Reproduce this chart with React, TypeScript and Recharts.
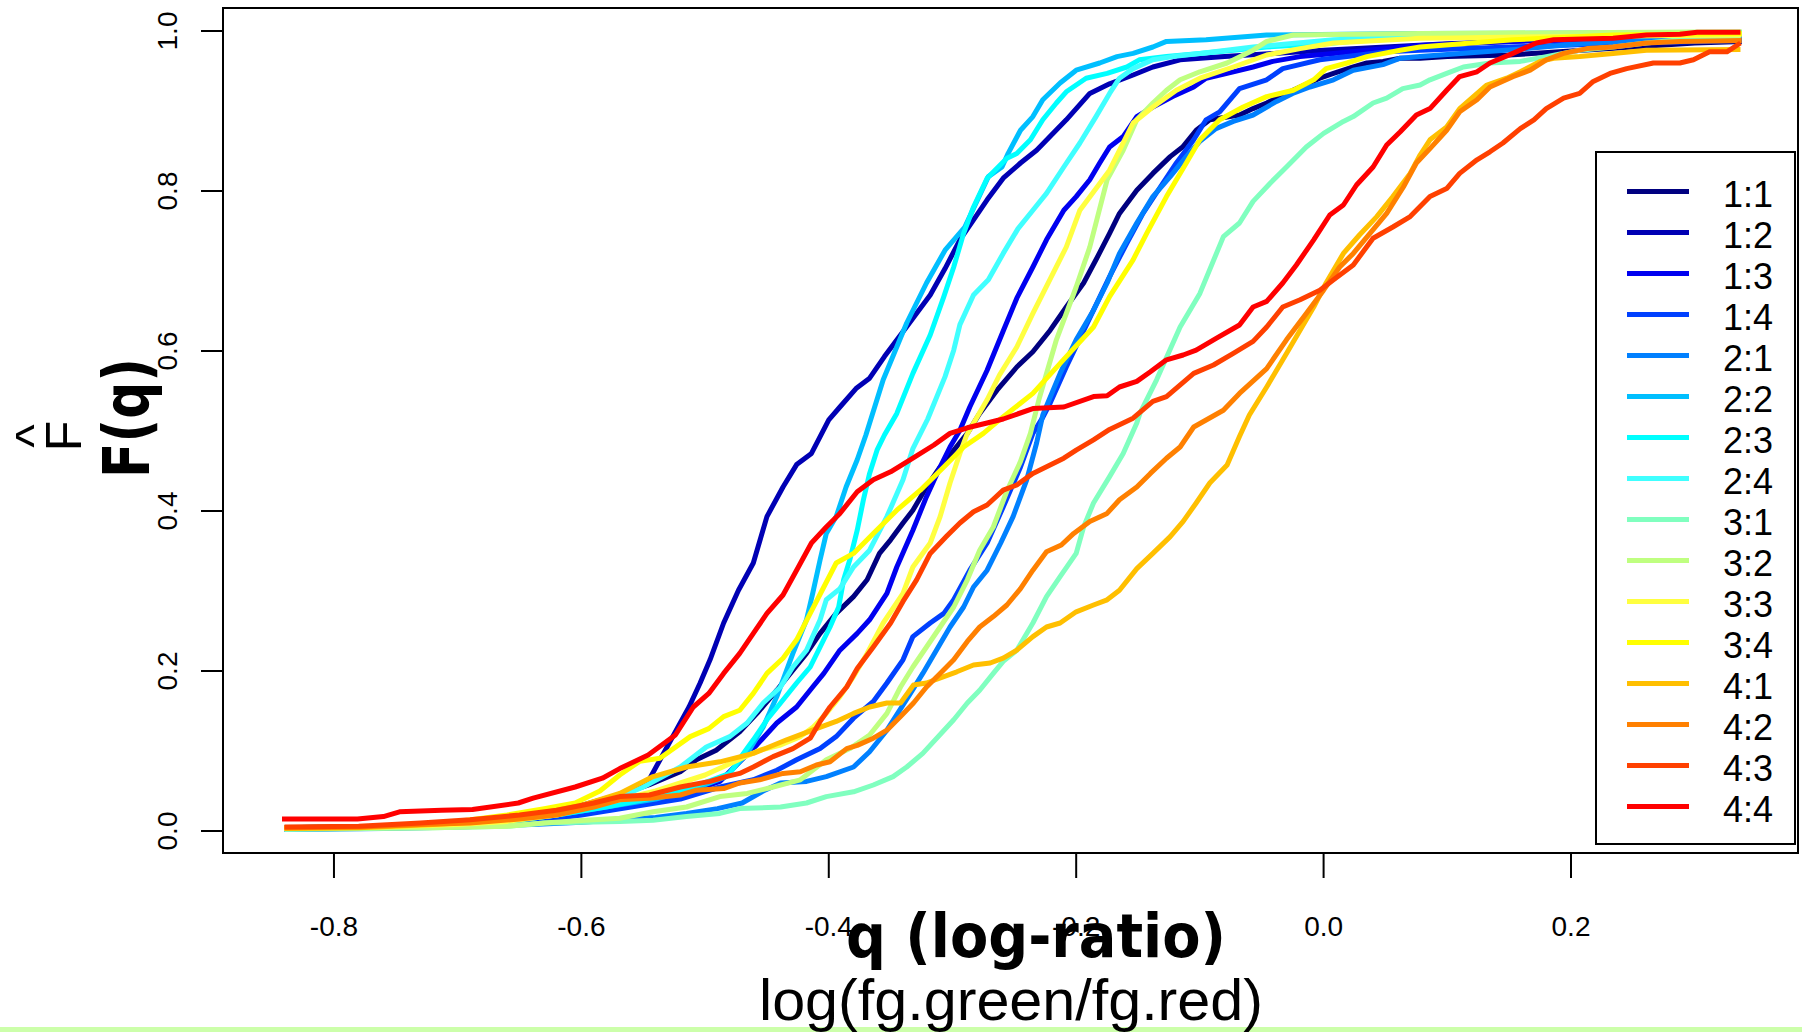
import React from 'react';
import { LineChart, Line, XAxis, YAxis, Legend, ReferenceArea } from 'recharts';

type Pt = [number, number];

const s11: Pt[] = [[-0.84,0.003],[-0.78,0.005],[-0.72,0.008],[-0.68,0.012],[-0.64,0.02],[-0.60,0.032],[-0.57,0.045],[-0.545,0.058],[-0.520,0.074],[-0.507,0.089],[-0.491,0.101],[-0.472,0.124],[-0.458,0.147],[-0.442,0.176],[-0.429,0.201],[-0.418,0.222],[-0.407,0.247],[-0.394,0.272],[-0.380,0.293],[-0.369,0.314],[-0.359,0.347],[-0.350,0.364],[-0.340,0.385],[-0.332,0.401],[-0.321,0.430],[-0.310,0.455],[-0.299,0.476],[-0.288,0.497],[-0.278,0.522],[-0.264,0.551],[-0.248,0.580],[-0.235,0.599],[-0.221,0.626],[-0.208,0.655],[-0.194,0.685],[-0.184,0.714],[-0.173,0.747],[-0.165,0.772],[-0.151,0.801],[-0.138,0.822],[-0.124,0.843],[-0.114,0.855],[-0.103,0.876],[-0.092,0.889],[-0.068,0.895],[-0.057,0.903],[-0.046,0.910],[-0.033,0.920],[-0.019,0.930],[-0.003,0.941],[0.008,0.947],[0.024,0.955],[0.035,0.960],[0.048,0.962],[0.062,0.966],[0.078,0.966],[0.10,0.968],[0.15,0.970],[0.20,0.975],[0.25,0.980],[0.30,0.985],[0.338,0.987]];
const s12: Pt[] = [[-0.84,0.004],[-0.76,0.006],[-0.70,0.010],[-0.66,0.015],[-0.62,0.025],[-0.59,0.035],[-0.565,0.045],[-0.546,0.062],[-0.513,0.155],[-0.504,0.185],[-0.496,0.214],[-0.485,0.260],[-0.473,0.301],[-0.461,0.335],[-0.450,0.393],[-0.437,0.430],[-0.426,0.458],[-0.414,0.472],[-0.400,0.514],[-0.391,0.530],[-0.378,0.553],[-0.367,0.566],[-0.355,0.593],[-0.342,0.620],[-0.318,0.670],[-0.306,0.703],[-0.294,0.739],[-0.272,0.789],[-0.259,0.816],[-0.245,0.835],[-0.232,0.851],[-0.208,0.889],[-0.189,0.922],[-0.173,0.934],[-0.154,0.945],[-0.138,0.955],[-0.116,0.964],[-0.08,0.968],[-0.04,0.972],[0.0,0.976],[0.05,0.980],[0.10,0.984],[0.15,0.987],[0.20,0.990],[0.25,0.992],[0.30,0.994],[0.338,0.995]];
const s13: Pt[] = [[-0.84,0.003],[-0.76,0.005],[-0.70,0.008],[-0.64,0.015],[-0.60,0.022],[-0.56,0.032],[-0.52,0.045],[-0.488,0.062],[-0.458,0.108],[-0.442,0.135],[-0.426,0.155],[-0.413,0.180],[-0.404,0.197],[-0.391,0.226],[-0.377,0.247],[-0.367,0.264],[-0.353,0.297],[-0.345,0.330],[-0.332,0.376],[-0.321,0.418],[-0.310,0.455],[-0.302,0.480],[-0.294,0.501],[-0.286,0.530],[-0.272,0.576],[-0.259,0.625],[-0.248,0.666],[-0.235,0.705],[-0.224,0.739],[-0.210,0.776],[-0.200,0.793],[-0.189,0.814],[-0.181,0.835],[-0.173,0.855],[-0.162,0.868],[-0.151,0.893],[-0.138,0.905],[-0.122,0.918],[-0.105,0.930],[-0.095,0.941],[-0.078,0.947],[-0.057,0.955],[-0.041,0.962],[-0.019,0.968],[0.008,0.972],[0.035,0.976],[0.078,0.982],[0.15,0.987],[0.25,0.990],[0.338,0.992]];
const s14: Pt[] = [[-0.84,0.002],[-0.76,0.004],[-0.70,0.006],[-0.64,0.012],[-0.60,0.020],[-0.56,0.030],[-0.52,0.040],[-0.488,0.055],[-0.461,0.064],[-0.442,0.076],[-0.426,0.089],[-0.407,0.103],[-0.394,0.118],[-0.380,0.141],[-0.364,0.162],[-0.353,0.185],[-0.340,0.214],[-0.332,0.243],[-0.318,0.260],[-0.307,0.272],[-0.299,0.289],[-0.286,0.326],[-0.272,0.360],[-0.259,0.405],[-0.245,0.455],[-0.235,0.497],[-0.227,0.517],[-0.221,0.535],[-0.208,0.580],[-0.186,0.651],[-0.173,0.693],[-0.159,0.735],[-0.146,0.772],[-0.132,0.805],[-0.119,0.835],[-0.105,0.864],[-0.095,0.889],[-0.084,0.899],[-0.068,0.928],[-0.046,0.939],[-0.033,0.953],[-0.003,0.964],[0.051,0.974],[0.078,0.976],[0.15,0.980],[0.25,0.985],[0.338,0.988]];
const s21: Pt[] = [[-0.84,0.002],[-0.76,0.003],[-0.70,0.005],[-0.64,0.008],[-0.60,0.011],[-0.569,0.014],[-0.54,0.017],[-0.515,0.022],[-0.49,0.028],[-0.47,0.035],[-0.453,0.050],[-0.439,0.060],[-0.418,0.062],[-0.402,0.068],[-0.380,0.080],[-0.367,0.099],[-0.353,0.126],[-0.334,0.172],[-0.324,0.197],[-0.313,0.226],[-0.302,0.255],[-0.291,0.280],[-0.283,0.305],[-0.272,0.326],[-0.261,0.360],[-0.251,0.393],[-0.240,0.439],[-0.232,0.485],[-0.227,0.520],[-0.213,0.572],[-0.200,0.614],[-0.186,0.651],[-0.175,0.685],[-0.165,0.722],[-0.151,0.760],[-0.138,0.793],[-0.124,0.818],[-0.111,0.843],[-0.100,0.862],[-0.087,0.878],[-0.073,0.887],[-0.057,0.895],[-0.038,0.912],[-0.025,0.922],[-0.011,0.930],[0.008,0.939],[0.024,0.951],[0.048,0.958],[0.062,0.966],[0.078,0.968],[0.13,0.974],[0.164,0.978],[0.207,0.984],[0.261,0.989],[0.338,0.991]];
const s22: Pt[] = [[-0.84,0.004],[-0.76,0.006],[-0.70,0.008],[-0.66,0.012],[-0.62,0.020],[-0.58,0.030],[-0.54,0.040],[-0.51,0.052],[-0.483,0.068],[-0.466,0.097],[-0.453,0.130],[-0.442,0.168],[-0.429,0.222],[-0.418,0.264],[-0.413,0.297],[-0.407,0.339],[-0.402,0.372],[-0.394,0.393],[-0.386,0.430],[-0.377,0.464],[-0.370,0.495],[-0.356,0.564],[-0.337,0.635],[-0.321,0.685],[-0.306,0.726],[-0.290,0.755],[-0.271,0.818],[-0.260,0.830],[-0.255,0.847],[-0.245,0.876],[-0.235,0.893],[-0.227,0.914],[-0.213,0.935],[-0.200,0.951],[-0.181,0.960],[-0.167,0.968],[-0.154,0.972],[-0.138,0.980],[-0.127,0.987],[-0.095,0.989],[-0.046,0.995],[0.078,0.997],[0.338,0.998]];
const s23: Pt[] = [[-0.84,0.003],[-0.76,0.005],[-0.70,0.008],[-0.66,0.012],[-0.62,0.020],[-0.58,0.030],[-0.54,0.042],[-0.51,0.055],[-0.480,0.072],[-0.469,0.097],[-0.461,0.114],[-0.450,0.139],[-0.439,0.160],[-0.426,0.185],[-0.415,0.205],[-0.407,0.230],[-0.399,0.255],[-0.392,0.280],[-0.388,0.314],[-0.383,0.339],[-0.377,0.376],[-0.372,0.414],[-0.367,0.447],[-0.361,0.476],[-0.355,0.495],[-0.345,0.522],[-0.332,0.572],[-0.318,0.620],[-0.307,0.668],[-0.299,0.705],[-0.291,0.747],[-0.283,0.780],[-0.272,0.816],[-0.256,0.841],[-0.248,0.847],[-0.237,0.864],[-0.227,0.889],[-0.216,0.910],[-0.208,0.924],[-0.192,0.941],[-0.175,0.947],[-0.159,0.955],[-0.149,0.964],[-0.127,0.968],[-0.100,0.972],[-0.046,0.980],[0.008,0.985],[0.078,0.995],[0.338,0.998]];
const s24: Pt[] = [[-0.84,0.004],[-0.76,0.006],[-0.70,0.010],[-0.66,0.015],[-0.62,0.022],[-0.58,0.035],[-0.55,0.055],[-0.520,0.080],[-0.499,0.105],[-0.480,0.118],[-0.466,0.135],[-0.453,0.160],[-0.439,0.180],[-0.429,0.205],[-0.418,0.226],[-0.407,0.264],[-0.402,0.289],[-0.391,0.303],[-0.380,0.330],[-0.367,0.351],[-0.353,0.393],[-0.340,0.439],[-0.332,0.478],[-0.320,0.515],[-0.306,0.568],[-0.299,0.601],[-0.294,0.633],[-0.283,0.670],[-0.271,0.689],[-0.259,0.722],[-0.247,0.753],[-0.235,0.776],[-0.224,0.797],[-0.210,0.830],[-0.197,0.860],[-0.184,0.893],[-0.173,0.922],[-0.165,0.941],[-0.154,0.953],[-0.138,0.964],[-0.122,0.968],[-0.100,0.972],[-0.057,0.980],[0.008,0.989],[0.078,0.993],[0.338,0.997]];
const s31: Pt[] = [[-0.84,0.002],[-0.72,0.004],[-0.66,0.006],[-0.63,0.010],[-0.569,0.012],[-0.542,0.0135],[-0.515,0.018],[-0.488,0.022],[-0.472,0.028],[-0.439,0.030],[-0.418,0.035],[-0.402,0.043],[-0.380,0.049],[-0.364,0.0575],[-0.348,0.068],[-0.337,0.080],[-0.324,0.097],[-0.299,0.139],[-0.288,0.160],[-0.278,0.176],[-0.267,0.197],[-0.259,0.212],[-0.248,0.226],[-0.235,0.260],[-0.224,0.293],[-0.213,0.318],[-0.200,0.347],[-0.194,0.380],[-0.186,0.410],[-0.173,0.443],[-0.162,0.472],[-0.151,0.510],[-0.1485,0.522],[-0.135,0.564],[-0.116,0.630],[-0.100,0.672],[-0.081,0.743],[-0.068,0.760],[-0.057,0.787],[-0.043,0.810],[-0.030,0.830],[-0.014,0.855],[0.000,0.872],[0.016,0.887],[0.024,0.893],[0.040,0.910],[0.051,0.916],[0.064,0.928],[0.078,0.9325],[0.086,0.939],[0.0995,0.947],[0.113,0.955],[0.1345,0.960],[0.159,0.962],[0.180,0.968],[0.207,0.976],[0.234,0.980],[0.261,0.985],[0.288,0.989],[0.337,0.993]];
const s32: Pt[] = [[-0.84,0.003],[-0.72,0.004],[-0.66,0.006],[-0.63,0.010],[-0.60,0.013],[-0.569,0.016],[-0.542,0.024],[-0.515,0.030],[-0.488,0.043],[-0.466,0.047],[-0.445,0.055],[-0.423,0.064],[-0.402,0.089],[-0.383,0.103],[-0.367,0.120],[-0.353,0.147],[-0.342,0.180],[-0.332,0.205],[-0.321,0.230],[-0.310,0.255],[-0.299,0.280],[-0.288,0.314],[-0.278,0.351],[-0.267,0.380],[-0.256,0.425],[-0.245,0.462],[-0.237,0.497],[-0.230,0.540],[-0.216,0.614],[-0.200,0.680],[-0.189,0.730],[-0.175,0.814],[-0.162,0.851],[-0.151,0.889],[-0.138,0.910],[-0.127,0.926],[-0.116,0.939],[-0.100,0.949],[-0.078,0.960],[-0.057,0.976],[-0.046,0.987],[-0.0245,0.995],[0.078,0.997],[0.338,0.999]];
const s33: Pt[] = [[-0.84,0.003],[-0.76,0.005],[-0.70,0.008],[-0.66,0.012],[-0.62,0.020],[-0.58,0.035],[-0.54,0.050],[-0.50,0.070],[-0.456,0.101],[-0.439,0.1075],[-0.423,0.118],[-0.4125,0.130],[-0.402,0.147],[-0.391,0.168],[-0.380,0.193],[-0.369,0.222],[-0.356,0.260],[-0.340,0.297],[-0.332,0.330],[-0.318,0.360],[-0.310,0.393],[-0.302,0.435],[-0.294,0.472],[-0.2885,0.495],[-0.272,0.539],[-0.262,0.570],[-0.248,0.605],[-0.235,0.647],[-0.208,0.730],[-0.197,0.776],[-0.173,0.826],[-0.154,0.885],[-0.138,0.905],[-0.119,0.926],[-0.100,0.941],[-0.073,0.955],[-0.046,0.970],[-0.019,0.978],[0.008,0.985],[0.078,0.991],[0.20,0.993],[0.338,0.995]];
const s34: Pt[] = [[-0.84,0.004],[-0.76,0.006],[-0.70,0.012],[-0.66,0.020],[-0.63,0.028],[-0.605,0.035],[-0.585,0.050],[-0.569,0.070],[-0.553,0.087],[-0.5365,0.091],[-0.512,0.118],[-0.497,0.128],[-0.485,0.143],[-0.472,0.151],[-0.461,0.172],[-0.450,0.197],[-0.437,0.216],[-0.426,0.239],[-0.415,0.272],[-0.404,0.305],[-0.394,0.335],[-0.380,0.347],[-0.364,0.372],[-0.345,0.401],[-0.326,0.426],[-0.307,0.455],[-0.291,0.480],[-0.275,0.497],[-0.262,0.514],[-0.235,0.547],[-0.208,0.593],[-0.186,0.630],[-0.173,0.668],[-0.154,0.714],[-0.143,0.747],[-0.127,0.793],[-0.111,0.835],[-0.100,0.864],[-0.084,0.889],[-0.065,0.905],[-0.046,0.918],[-0.0245,0.926],[-0.008,0.939],[0.002,0.953],[0.019,0.960],[0.035,0.968],[0.062,0.976],[0.078,0.980],[0.153,0.989],[0.234,0.995],[0.338,0.997]];
const s41: Pt[] = [[-0.84,0.003],[-0.78,0.004],[-0.72,0.008],[-0.68,0.012],[-0.64,0.020],[-0.60,0.032],[-0.569,0.047],[-0.542,0.068],[-0.515,0.080],[-0.488,0.0865],[-0.461,0.097],[-0.434,0.114],[-0.410,0.128],[-0.394,0.137],[-0.380,0.147],[-0.367,0.155],[-0.353,0.160],[-0.342,0.160],[-0.3315,0.1825],[-0.321,0.185],[-0.307,0.193],[-0.2965,0.199],[-0.283,0.2075],[-0.2695,0.210],[-0.259,0.216],[-0.248,0.226],[-0.235,0.243],[-0.224,0.255],[-0.213,0.260],[-0.200,0.274],[-0.186,0.2825],[-0.175,0.289],[-0.165,0.301],[-0.151,0.328],[-0.138,0.347],[-0.124,0.368],[-0.1135,0.387],[-0.103,0.410],[-0.092,0.435],[-0.078,0.4575],[-0.068,0.493],[-0.060,0.520],[-0.046,0.555],[-0.030,0.597],[-0.019,0.626],[-0.008,0.655],[0.002,0.685],[0.016,0.722],[0.029,0.745],[0.043,0.768],[0.056,0.793],[0.070,0.822],[0.078,0.845],[0.086,0.864],[0.0995,0.880],[0.110,0.903],[0.132,0.9325],[0.148,0.941],[0.159,0.949],[0.175,0.962],[0.186,0.966],[0.207,0.968],[0.234,0.972],[0.261,0.976],[0.337,0.977]];
const s42: Pt[] = [[-0.84,0.004],[-0.78,0.005],[-0.73,0.008],[-0.69,0.010],[-0.65,0.015],[-0.62,0.020],[-0.59,0.030],[-0.569,0.039],[-0.545,0.041],[-0.520,0.045],[-0.507,0.051],[-0.485,0.053],[-0.472,0.060],[-0.456,0.064],[-0.437,0.072],[-0.423,0.074],[-0.410,0.0825],[-0.399,0.0865],[-0.3855,0.103],[-0.377,0.107],[-0.364,0.116],[-0.353,0.126],[-0.342,0.143],[-0.3315,0.160],[-0.321,0.180],[-0.310,0.197],[-0.299,0.214],[-0.288,0.237],[-0.278,0.255],[-0.267,0.268],[-0.256,0.2825],[-0.245,0.303],[-0.235,0.326],[-0.224,0.349],[-0.212,0.3575],[-0.202,0.372],[-0.189,0.387],[-0.175,0.397],[-0.165,0.414],[-0.151,0.430],[-0.140,0.447],[-0.127,0.466],[-0.116,0.480],[-0.105,0.505],[-0.081,0.526],[-0.068,0.547],[-0.046,0.578],[-0.030,0.614],[-0.014,0.647],[0.000,0.676],[0.013,0.705],[0.024,0.722],[0.0375,0.747],[0.051,0.772],[0.0645,0.805],[0.075,0.835],[0.086,0.853],[0.0995,0.876],[0.110,0.899],[0.124,0.914],[0.1345,0.930],[0.153,0.943],[0.167,0.951],[0.180,0.964],[0.194,0.972],[0.213,0.978],[0.234,0.980],[0.261,0.985],[0.288,0.987],[0.338,0.988]];
const s43: Pt[] = [[-0.84,0.005],[-0.78,0.006],[-0.73,0.010],[-0.69,0.014],[-0.65,0.020],[-0.62,0.026],[-0.59,0.035],[-0.569,0.043],[-0.545,0.045],[-0.520,0.055],[-0.496,0.062],[-0.483,0.068],[-0.472,0.072],[-0.461,0.080],[-0.445,0.093],[-0.429,0.103],[-0.415,0.116],[-0.407,0.137],[-0.399,0.155],[-0.3855,0.180],[-0.377,0.203],[-0.364,0.230],[-0.350,0.260],[-0.340,0.287],[-0.329,0.314],[-0.318,0.347],[-0.305,0.368],[-0.294,0.385],[-0.283,0.399],[-0.272,0.4075],[-0.259,0.426],[-0.248,0.4325],[-0.235,0.447],[-0.210,0.466],[-0.200,0.476],[-0.186,0.489],[-0.173,0.502],[-0.154,0.516],[-0.138,0.537],[-0.127,0.543],[-0.105,0.572],[-0.089,0.5825],[-0.073,0.597],[-0.057,0.612],[-0.046,0.630],[-0.033,0.655],[-0.019,0.664],[-0.003,0.676],[0.008,0.689],[0.024,0.7075],[0.040,0.741],[0.056,0.755],[0.070,0.768],[0.086,0.793],[0.0995,0.803],[0.110,0.822],[0.124,0.839],[0.1345,0.849],[0.145,0.860],[0.159,0.878],[0.170,0.889],[0.180,0.903],[0.194,0.916],[0.207,0.922],[0.218,0.937],[0.2315,0.947],[0.245,0.953],[0.2666,0.960],[0.288,0.960],[0.299,0.964],[0.312,0.974],[0.326,0.974],[0.337,0.985]];
const s44: Pt[] = [[-0.842,0.015],[-0.781,0.015],[-0.760,0.018],[-0.747,0.024],[-0.713,0.026],[-0.688,0.027],[-0.651,0.035],[-0.639,0.041],[-0.605,0.055],[-0.583,0.066],[-0.569,0.078],[-0.546,0.095],[-0.524,0.120],[-0.5095,0.155],[-0.497,0.172],[-0.485,0.197],[-0.472,0.222],[-0.461,0.247],[-0.450,0.272],[-0.437,0.295],[-0.426,0.326],[-0.414,0.360],[-0.402,0.380],[-0.391,0.397],[-0.377,0.424],[-0.364,0.439],[-0.350,0.449],[-0.332,0.466],[-0.315,0.4825],[-0.302,0.497],[-0.288,0.504],[-0.272,0.510],[-0.259,0.515],[-0.235,0.528],[-0.210,0.530],[-0.186,0.543],[-0.175,0.544],[-0.165,0.555],[-0.151,0.562],[-0.140,0.574],[-0.127,0.589],[-0.1135,0.595],[-0.103,0.601],[-0.0865,0.616],[-0.068,0.6325],[-0.057,0.655],[-0.046,0.662],[-0.033,0.685],[-0.022,0.7075],[-0.008,0.739],[0.005,0.770],[0.016,0.7825],[0.0266,0.8075],[0.040,0.830],[0.051,0.8575],[0.062,0.874],[0.075,0.895],[0.086,0.903],[0.0995,0.926],[0.110,0.943],[0.124,0.949],[0.1345,0.960],[0.153,0.972],[0.172,0.985],[0.186,0.989],[0.234,0.991],[0.261,0.995],[0.288,0.996],[0.302,0.9985],[0.337,0.9985]];

const seriesNames = ['1:1','1:2','1:3','1:4','2:1','2:2','2:3','2:4','3:1','3:2','3:3','3:4','4:1','4:2','4:3','4:4'];
const seriesColors = ['#000080','#0000B4','#0000F0','#0040FF','#0080FF','#00BFFF','#00FFFF','#40FFFF','#80FFBF','#BFFF80','#FFFF40','#FFFF00','#FFBF00','#FF8000','#FF4000','#FF0000'];
const seriesPoints: Pt[][] = [s11,s12,s13,s14,s21,s22,s23,s24,s31,s32,s33,s34,s41,s42,s43,s44];

const xTicks = [-0.8, -0.6, -0.4, -0.2, 0, 0.2];
const yTicks = [0, 0.2, 0.4, 0.6, 0.8, 1];
const X_DOMAIN: [number, number] = [-0.8897, 0.3835];
const Y_DOMAIN: [number, number] = [-0.0275, 1.02875];

const FONT = "'Liberation Sans', Arial, Helvetica, sans-serif";
const BOLD_FONT = "'DejaVu Sans', 'Liberation Sans', sans-serif";

const series = seriesNames.map((name, i) => ({
  name,
  color: seriesColors[i],
  data: seriesPoints[i].map(([x, y]) => ({ x, y })),
}));

const fmt = (v: number) => (Math.abs(v) < 1e-9 ? '0.0' : v.toFixed(1));

const XTick = (props: any) => {
  const { x, y, payload } = props;
  return (
    <text x={x} y={y} dy="0.71em" textAnchor="middle" fontFamily={FONT} fontSize={28} fill="#000">
      {fmt(payload.value)}
    </text>
  );
};

const YTick = (props: any) => {
  const { x, y, payload } = props;
  const bx = x - 24;
  return (
    <text x={bx} y={y} transform={`rotate(-90 ${bx} ${y})`} textAnchor="middle" fontFamily={FONT} fontSize={28} fill="#000">
      {fmt(payload.value)}
    </text>
  );
};

const XTitle = () => (
  <g>
    <text x={1036} y={957} textAnchor="middle" fontFamily={BOLD_FONT} fontWeight="bold" fontSize={60}
      textLength={380} lengthAdjust="spacingAndGlyphs" fill="#000">q (log-ratio)</text>
    <text x={1011} y={1020} textAnchor="middle" fontFamily={FONT} fontSize={57}
      textLength={504} lengthAdjust="spacingAndGlyphs" fill="#000">log(fg.green/fg.red)</text>
  </g>
);

const YTitle = () => (
  <g>
    <text x={149} y={418} transform="rotate(-90 149 418)" textAnchor="middle" fontFamily={BOLD_FONT}
      fontWeight="bold" fontSize={64} textLength={120} lengthAdjust="spacingAndGlyphs" fill="#000">F(q)</text>
    <text x={81} y={436} transform="rotate(-90 81 436)" textAnchor="middle" fontFamily={FONT} fontSize={50} fill="#000">F</text>
    <text x={50} y={436} transform="rotate(-90 50 436)" textAnchor="middle" fontFamily={FONT} fontSize={50} fill="#000">^</text>
  </g>
);

const renderLegend = () => (
  <div style={{ width: 201, height: 694, border: '2px solid #000', boxSizing: 'border-box', background: '#fff' }}>
    <svg width={197} height={690} style={{ display: 'block' }}>
      {series.map((s, i) => {
        const cy = 38.5 + 41 * i;
        return (
          <g key={s.name}>
            <line x1={30} x2={92} y1={cy} y2={cy} stroke={s.color} strokeWidth={5} />
            <text x={126} y={cy + 15.5} fontFamily={FONT} fontSize={36} fill="#000">{s.name}</text>
          </g>
        );
      })}
    </svg>
  </div>
);

export default function App() {
  return (
    <div style={{ position: 'absolute', left: 0, top: 0, width: 1802, height: 1032, background: '#fff', overflow: 'hidden' }}>
      <div style={{ position: 'absolute', left: 0, top: 1027, width: 1802, height: 5, background: '#ccffaa' }} />
      <div style={{ position: 'absolute', left: 0, top: 0 }}>
        <LineChart width={1802} height={1032} margin={{ top: 8, right: 4, bottom: 149, left: 163 }}>
          <XAxis type="number" dataKey="x" domain={X_DOMAIN} ticks={xTicks} allowDataOverflow interval={0}
            axisLine={false} tickSize={25} tickMargin={38} tickLine={{ stroke: '#000', strokeWidth: 2 }}
            tick={XTick} height={30} label={XTitle} />
          <YAxis type="number" domain={Y_DOMAIN} ticks={yTicks} allowDataOverflow interval={0}
            axisLine={false} tickSize={22} tickMargin={0} tickLine={{ stroke: '#000', strokeWidth: 2 }}
            tick={YTick} width={60} label={YTitle} />
          <ReferenceArea x1={X_DOMAIN[0]} x2={X_DOMAIN[1]} y1={Y_DOMAIN[0]} y2={Y_DOMAIN[1]}
            fill="none" fillOpacity={0} stroke="#000" strokeWidth={2} ifOverflow="visible" />
          {series.map((s) => (
            <Line key={s.name} name={s.name} data={s.data} dataKey="y" type="linear" stroke={s.color}
              strokeWidth={5} strokeLinejoin="round" dot={false} activeDot={false} isAnimationActive={false} />
          ))}
          <Legend layout="vertical" align="center" verticalAlign="middle" content={renderLegend}
            wrapperStyle={{ left: 1595, top: 151, width: 201, height: 694 }} />
        </LineChart>
      </div>
    </div>
  );
}
